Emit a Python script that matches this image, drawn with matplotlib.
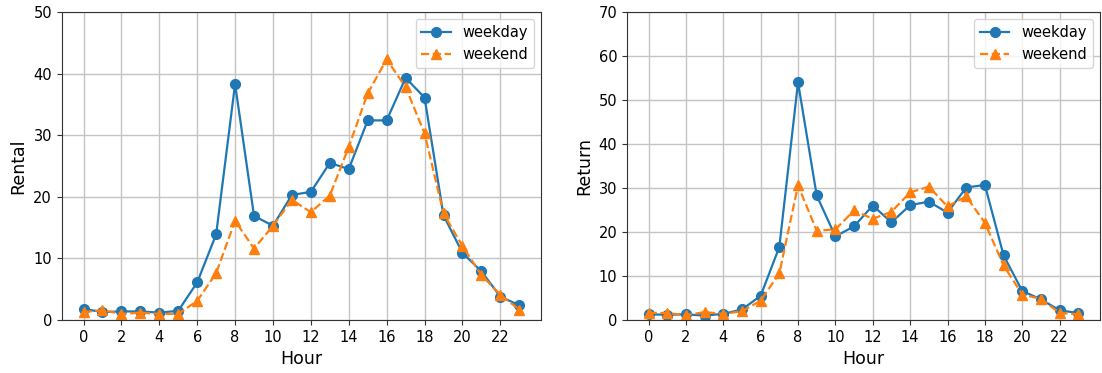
import matplotlib.pyplot as plt
import numpy as np

hours = list(range(24))

rental_weekday = [1.8, 1.3, 1.4, 1.4, 1.2, 1.5, 6.1, 13.9, 38.3, 16.9, 15.3, 20.3,
                  20.8, 25.5, 24.5, 32.4, 32.4, 39.3, 36.1, 17.0, 10.9, 7.9, 3.8, 2.4]
rental_weekend = [1.3, 1.6, 1.0, 1.2, 1.0, 1.0, 3.1, 7.6, 16.1, 11.6, 15.3, 19.5,
                  17.5, 20.2, 28.1, 36.8, 42.3, 37.8, 30.3, 17.3, 12.0, 7.3, 4.1, 1.7]

return_weekday = [1.3, 1.2, 1.3, 1.0, 1.4, 2.4, 5.5, 16.6, 54.0, 28.3, 19.0, 21.3,
                  26.0, 22.2, 26.1, 26.9, 24.4, 30.1, 30.7, 14.7, 6.6, 4.7, 2.2, 1.6]
return_weekend = [1.6, 1.6, 1.1, 1.8, 1.4, 2.0, 4.4, 10.6, 30.6, 20.3, 20.6, 24.9,
                  23.0, 24.6, 29.0, 30.3, 25.8, 28.1, 22.1, 12.4, 5.8, 4.8, 1.6, 1.3]

fig = plt.figure(figsize=(11.02, 3.73), dpi=100)
ax1 = fig.add_axes([0.056, 0.142, 0.435, 0.826])
ax2 = fig.add_axes([0.569, 0.142, 0.429, 0.826])

panels = [(ax1, rental_weekday, rental_weekend, 'Rental', 50),
          (ax2, return_weekday, return_weekend, 'Return', 70)]

for ax, wd, we, label, top in panels:
    ax.plot(hours, wd, '-o', color='#1f77b4', label='weekday', markersize=7, linewidth=1.6)
    ax.plot(hours, we, '--^', color='#ff7f0e', label='weekend', markersize=7, linewidth=1.6)
    ax.set_xticks(range(0, 24, 2))
    ax.set_ylim(0, top)
    ax.set_xlabel('Hour', fontsize=12.5)
    ax.set_ylabel(label, fontsize=12.5)
    ax.tick_params(labelsize=10.5, color='#333333')
    ax.grid(True, color='#c4c4c4', linewidth=1)
    for s in ax.spines.values():
        s.set_color('#333333')
    ax.legend(loc='upper right', fontsize=10.5)

fig.savefig('out.png', dpi=100)
